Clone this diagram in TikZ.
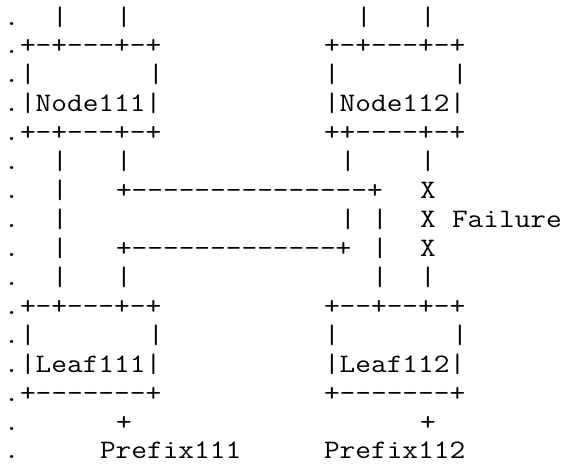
\documentclass[tikz,border=0pt]{standalone}
\usepackage{fontspec}
\newfontfamily\asciifont[FakeStretch=1.1429,Ligatures=NoCommon]{Latin Modern Mono}
\newcommand\asciiseg[4]{\node[txt] (#1) at ({4+16*#2},{-25-28.93*#3}) {#4};}
\begin{document}
\begin{tikzpicture}[x=1pt,y=1pt,
  txt/.style={anchor=base west,inner sep=0pt,outer sep=0pt,
    font=\asciifont\fontsize{26.667}{29}\selectfont,text=black}]
\useasboundingbox (0,0) rectangle (565,-472);
% left-margin dots
\foreach \r in {0,...,15}{\node[txt] (dot\r) at (4,{-25-28.93*\r}) {.};}
% row 0
\asciiseg{t1a}{3}{0}{|}
\asciiseg{t1b}{7}{0}{|}
\asciiseg{t2a}{22}{0}{|}
\asciiseg{t2b}{26}{0}{|}
% Node111 / Node112 boxes
\asciiseg{n1top}{1}{1}{+-+---+-+}
\asciiseg{n2top}{20}{1}{+-+---+-+}
\asciiseg{n1l}{1}{2}{|}
\asciiseg{n1r}{9}{2}{|}
\asciiseg{n2l}{20}{2}{|}
\asciiseg{n2r}{28}{2}{|}
\asciiseg{Node111}{1}{3}{|Node111|}
\asciiseg{Node112}{20}{3}{|Node112|}
\asciiseg{n1bot}{1}{4}{+-+---+-+}
\asciiseg{n2bot}{20}{4}{++----+-+}
% links
\asciiseg{r5a}{3}{5}{|}
\asciiseg{r5b}{7}{5}{|}
\asciiseg{r5c}{21}{5}{|}
\asciiseg{r5d}{26}{5}{|}
\asciiseg{r6a}{3}{6}{|}
\asciiseg{r6b}{7}{6}{+---------------+}
\asciiseg{r6x}{26}{6}{X}
\asciiseg{r7a}{3}{7}{|}
\asciiseg{r7b}{21}{7}{|}
\asciiseg{r7c}{23}{7}{|}
\asciiseg{r7x}{26}{7}{X}
\asciiseg{failure}{28}{7}{Failure}
\asciiseg{r8a}{3}{8}{|}
\asciiseg{r8b}{7}{8}{+-------------+}
\asciiseg{r8c}{23}{8}{|}
\asciiseg{r8x}{26}{8}{X}
\asciiseg{r9a}{3}{9}{|}
\asciiseg{r9b}{7}{9}{|}
\asciiseg{r9c}{23}{9}{|}
\asciiseg{r9d}{26}{9}{|}
% Leaf boxes
\asciiseg{l1top}{1}{10}{+-+---+-+}
\asciiseg{l2top}{20}{10}{+--+--+-+}
\asciiseg{l1l}{1}{11}{|}
\asciiseg{l1r}{9}{11}{|}
\asciiseg{l2l}{20}{11}{|}
\asciiseg{l2r}{28}{11}{|}
\asciiseg{Leaf111}{1}{12}{|Leaf111|}
\asciiseg{Leaf112}{20}{12}{|Leaf112|}
\asciiseg{l1bot}{1}{13}{+-------+}
\asciiseg{l2bot}{20}{13}{+-------+}
% prefixes
\asciiseg{p1plus}{7}{14}{+}
\asciiseg{p2plus}{26}{14}{+}
\asciiseg{Prefix111}{6}{15}{Prefix111}
\asciiseg{Prefix112}{20}{15}{Prefix112}
\end{tikzpicture}
\end{document}
